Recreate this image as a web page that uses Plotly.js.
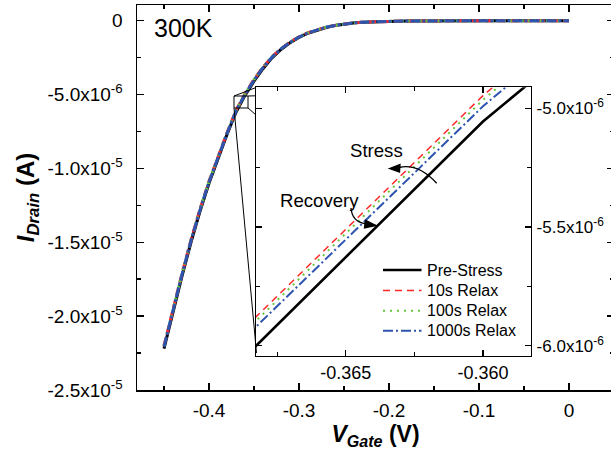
<!DOCTYPE html>
<html><head><meta charset="utf-8">
<script src="https://cdn.plot.ly/plotly-3.0.1.min.js"></script>
<style>html,body{margin:0;padding:0;overflow:hidden;background:#fff}#chart{width:614px;height:453px}</style>
</head><body><div id="chart"></div>
<script>
// Gate voltage (V) and drain current (µA, shown as x10^-6 A)
const vGate = [-0.45,-0.44,-0.43,-0.42,-0.41,-0.40,-0.39,-0.38,-0.37,-0.36,
  -0.35,-0.34,-0.33,-0.32,-0.31,-0.30,-0.29,-0.28,-0.27,-0.26,
  -0.25,-0.24,-0.23,-0.22,-0.21,-0.20,-0.19,-0.18,-0.17,-0.16,
  -0.15,-0.14,-0.13,-0.12,-0.11,-0.10,-0.09,-0.08,-0.07,-0.06,
  -0.05,-0.04,-0.03,-0.02,-0.01,0.00];
const iPreStress = [-22.2,-19.7,-17.3,-15.0,-12.9,-11.0,-9.3,-7.7,-6.198,-5.056,
  -4.10,-3.25,-2.52,-1.95,-1.50,-1.13,-0.85,-0.63,-0.46,-0.33,
  -0.23,-0.16,-0.11,-0.08,-0.06,-0.045,-0.033,-0.024,-0.017,-0.012,
  -0.009,-0.006,-0.0045,-0.0033,-0.0024,-0.0017,-0.0012,-0.0009,-0.0006,-0.0004,
  -0.0003,-0.0002,-0.00015,-0.0001,-0.00007,-0.00005];
const i10sRelax = [-22.0,-19.5,-17.12,-14.84,-12.76,-10.87,-9.18,-7.59,-6.073,-4.947,
  -3.97,-3.15,-2.44,-1.89,-1.45,-1.09,-0.82,-0.61,-0.445,-0.32,
  -0.222,-0.155,-0.106,-0.077,-0.058,-0.043,-0.032,-0.023,-0.016,-0.0115,
  -0.0085,-0.0057,-0.0043,-0.0031,-0.0023,-0.0016,-0.0011,-0.00085,-0.00057,-0.00038,
  -0.00028,-0.00019,-0.00014,-0.0001,-0.00007,-0.00005];
const i100sRelax = [-22.03,-19.53,-17.14,-14.86,-12.78,-10.89,-9.20,-7.61,-6.09,-4.965,
  -3.99,-3.16,-2.45,-1.90,-1.46,-1.10,-0.825,-0.615,-0.448,-0.322,
  -0.224,-0.156,-0.107,-0.078,-0.058,-0.044,-0.032,-0.023,-0.016,-0.0116,
  -0.0086,-0.0058,-0.0044,-0.0032,-0.0023,-0.0016,-0.0011,-0.00086,-0.00058,-0.00039,
  -0.00028,-0.00019,-0.00014,-0.0001,-0.00007,-0.00005];
const i1000sRelax = [-22.06,-19.56,-17.17,-14.89,-12.81,-10.92,-9.23,-7.64,-6.114,-4.992,
  -4.02,-3.18,-2.47,-1.91,-1.47,-1.11,-0.83,-0.62,-0.45,-0.325,
  -0.226,-0.157,-0.108,-0.078,-0.059,-0.044,-0.032,-0.023,-0.0165,-0.0117,
  -0.0087,-0.0058,-0.0044,-0.0032,-0.0023,-0.0016,-0.0012,-0.00087,-0.00058,-0.00039,
  -0.00029,-0.00019,-0.00014,-0.0001,-0.00007,-0.00005];
const seriesNames = ['Pre-Stress','10s Relax','100s Relax','1000s Relax'];
const mainXTicks = [-0.4,-0.3,-0.2,-0.1,0];
const mainXTickText = ['-0.4','-0.3','-0.2','-0.1','0'];
const mainYTicks = [0,-5,-10,-15,-20,-25];
const mainYTickText = ['0','-5.0x10<sup>-6</sup>','-1.0x10<sup>-5</sup>','-1.5x10<sup>-5</sup>','-2.0x10<sup>-5</sup>','-2.5x10<sup>-5</sup>'];
const insetXTicks = [-0.365,-0.360];
const insetXTickText = ['-0.365','-0.360'];
const insetYTicks = [-5.0,-5.5,-6.0];
const insetYTickText = ['-5.0x10<sup>-6</sup>','-5.5x10<sup>-6</sup>','-6.0x10<sup>-6</sup>'];

const seriesY = [iPreStress,i10sRelax,i100sRelax,i1000sRelax];
const colors = ['#000000','#ff2626','#66c83c','#2f54b0'];
const mainDash = ['solid','8px,5px','2px,4px','10px,2px,3px,2px'];
const insetDash = ['solid','7px,5px','2px,5px','10px,3px,2px,3px'];
const insetWidth = [2.6,1.5,2,2];

const FONT = 'Liberation Sans, Arial, sans-serif';
const W = 614, H = 453, L = 137, R = 0, T = 5, B = 63;
const PW = W - L - R, PH = H - T - B;
const px = p => (p - L) / PW;
const py = p => (T + PH - p) / PH;

const traces = [];
seriesY.forEach((y, k) => traces.push({
  x: vGate, y: y, type: 'scatter', mode: 'lines', xaxis: 'x', yaxis: 'y',
  showlegend: false, name: seriesNames[k],
  line: {color: colors[k], width: 3, dash: mainDash[k]}
}));
seriesY.forEach((y, k) => traces.push({
  x: vGate, y: y, type: 'scatter', mode: 'lines', xaxis: 'x2', yaxis: 'y2',
  showlegend: false, name: seriesNames[k],
  line: {color: colors[k], width: insetWidth[k], dash: insetDash[k]}
}));

const axCommon = {showline: true, linecolor: '#000', linewidth: 1.5, ticks: 'inside',
  tickcolor: '#000', tickwidth: 1.5, ticklen: 7, showgrid: false, zeroline: false,
  tickmode: 'array', fixedrange: true};

const seg = (x0,y0,x1,y1,w) => ({type:'line', xref:'paper', yref:'paper',
  x0:px(x0), y0:py(y0), x1:px(x1), y1:py(y1), line:{color:'#000', width:w||1}});
const path = (d, fill) => ({type:'path', xref:'paper', yref:'paper', path:d,
  line:{color:'#000', width:1.3}, fillcolor: fill ? '#000' : 'rgba(0,0,0,0)'});
const P = (a,b) => px(a).toFixed(5)+','+py(b).toFixed(5);

// manual legend (inside inset, lower right)
const legendRowsY = [270, 290.5, 310.8, 330.8];
const legendShapes = seriesNames.map((n, k) => ({type:'line', xref:'paper', yref:'paper',
  x0: px(383), x1: px(421.5), y0: py(legendRowsY[k]), y1: py(legendRowsY[k]),
  line: {color: colors[k], width: insetWidth[k], dash: insetDash[k]}}));
const legendTexts = seriesNames.map((n, k) => ({text: n, xref:'paper', yref:'paper',
  x: px(425), y: py(legendRowsY[k]), xanchor:'left', yanchor:'middle', showarrow:false,
  font: {size: 16}}));

const layout = {
  width: W, height: H,
  margin: {l: L, r: R, t: T, b: B, pad: 0},
  paper_bgcolor: '#fff', plot_bgcolor: '#fff',
  font: {family: FONT, color: '#000', size: 18},
  showlegend: false,
  xaxis: Object.assign({}, axCommon, {
    range: [-0.48, 0.05], domain: [0, 1], anchor: 'y', mirror: 'ticks',
    tickvals: mainXTicks, ticktext: mainXTickText, tickfont: {size: 19},
    minor: {tickvals: [-0.45,-0.35,-0.25,-0.15,-0.05], ticks: 'inside', ticklen: 4, tickwidth: 1.5, tickcolor: '#000'},
    ticklabelstandoff: 3,
    title: {text: '<b><i>V</i><sub><i>Gate</i></sub> (V)</b>', font: {size: 23}, standoff: 0}
  }),
  yaxis: Object.assign({}, axCommon, {
    range: [-25, 1.06], domain: [0, 1], anchor: 'x', mirror: 'ticks',
    tickvals: mainYTicks, ticktext: mainYTickText, tickfont: {size: 19},
    minor: {tickvals: [-22.5,-17.5,-12.5,-7.5,-2.5], ticks: 'inside', ticklen: 4, tickwidth: 1.5, tickcolor: '#000'},
    ticklabelstandoff: 9,
    title: {text: '<b><i>I</i><sub><i>Drain</i></sub> (A)</b>', font: {size: 24}, standoff: 6}
  }),
  xaxis2: Object.assign({}, axCommon, {
    range: [-0.36827, -0.35825], domain: [px(256), px(531)], anchor: 'y2', mirror: 'ticks',
    linewidth: 1.2, tickwidth: 1.2, ticklen: 6,
    tickvals: insetXTicks, ticktext: insetXTickText, tickfont: {size: 18},
    minor: {tickvals: [-0.3675,-0.3625], ticks: 'inside', ticklen: 4, tickwidth: 1.2, tickcolor: '#000'},
    ticklabelstandoff: 0
  }),
  yaxis2: Object.assign({}, axCommon, {
    range: [-6.043, -4.912], domain: [py(356), py(87.3)], anchor: 'x2', side: 'right', mirror: 'ticks',
    linewidth: 1.2, tickwidth: 1.2, ticklen: 6,
    tickvals: insetYTicks, ticktext: insetYTickText, tickfont: {size: 17},
    minor: {tickvals: [-5.75,-5.25], ticks: 'inside', ticklen: 4, tickwidth: 1.2, tickcolor: '#000'},
    ticklabelstandoff: 1
  }),
  annotations: [
    {text: '300K', xref: 'paper', yref: 'paper', x: px(152), y: py(28), xanchor: 'left', yanchor: 'middle',
      showarrow: false, font: {size: 25}},
    {text: 'Stress', xref: 'paper', yref: 'paper', x: px(376), y: py(150), xanchor: 'center', yanchor: 'middle',
      showarrow: false, font: {size: 18.6}},
    {text: 'Recovery', xref: 'paper', yref: 'paper', x: px(319), y: py(201), xanchor: 'center', yanchor: 'middle',
      showarrow: false, font: {size: 18.6}}
  ].concat(legendTexts),
  shapes: [
    {type:'rect', xref:'paper', yref:'paper', x0:px(234), y0:py(108), x1:px(248), y1:py(96), line:{color:'#000', width:1}},
    seg(234,96,256,87.5),
    seg(234,108,256.5,353),
    seg(248,96,256,95.8),
    seg(248,108,256,115),
    path('M'+P(436.7,183.3)+' Q'+P(418,163)+' '+P(399,167.5), false),
    path('M'+P(389.5,168.5)+' L'+P(400,164.5)+' L'+P(399.5,172)+' Z', true),
    path('M'+P(351,208)+' Q'+P(352,222)+' '+P(366,223.8), false),
    path('M'+P(376,225.5)+' L'+P(365.5,220.3)+' L'+P(364.5,228)+' Z', true)
  ].concat(legendShapes)
};

Plotly.newPlot('chart', traces, layout, {staticPlot: true, displayModeBar: false});
</script></body></html>
